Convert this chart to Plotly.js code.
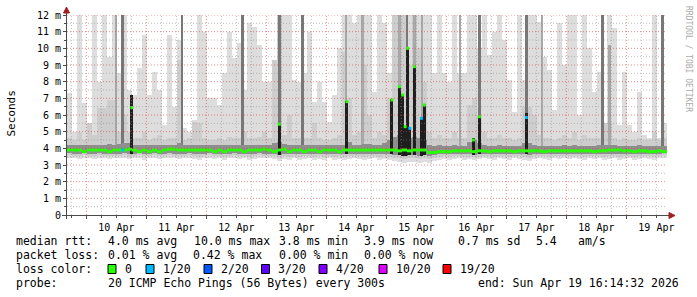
<!DOCTYPE html>
<html><head><meta charset="utf-8">
<script src="https://cdn.plot.ly/plotly-3.0.1.min.js"></script>
<style>html,body{margin:0;padding:0;background:#fff}#chart{width:697px;height:297px}</style>
</head><body><div id="chart"></div>
<script>
// ---------- data (ms) ----------
const startTime = '2026-04-09 16:14:32';
const endTime = '2026-04-19 16:14:32';
const binHours = 2;

const rttMax = [
 7.3,5.0,12.2,6.7,4.5,12.2,8.0,12.2,9.5,12.2,
 8.5,12.2,7.5,7.2,8.8,10.8,7.2,8.6,7.5,5.4,
 10.8,6.5,10.5,5.2,5.0,5.7,12.2,11.0,7.0,7.0,
 6.6,8.5,11.0,9.4,10.3,7.5,11.5,11.3,10.2,8.0,
 8.0,7.8,9.3,12.2,12.2,8.1,8.0,8.5,11.0,6.8,
 8.0,6.8,5.6,7.2,10.0,12.2,12.2,11.5,12.2,12.2,
 12.0,7.4,12.2,11.5,8.5,10.9,12.2,12.2,12.2,12.2,
 12.2,12.2,12.2,8.5,12.2,8.5,8.0,12.2,8.5,8.5,
 12.2,12.2,10.0,12.2,9.6,11.0,12.2,10.5,8.1,6.2,
 12.2,8.1,12.2,12.2,11.6,9.5,8.7,6.3,11.5,9.0,
 12.2,12.2,6.0,12.2,10.0,7.4,8.6,5.5,12.0,11.2,
 5.4,8.6,5.4,5.0,7.4,4.8,4.6,12.2,4.6,5.5
];
const rttP90 = [
 4.6,4.5,5.0,4.5,5.5,4.8,6.4,6.4,6.9,6.9,
 5.0,6.0,5.0,4.6,4.6,5.0,4.5,4.6,4.8,4.5,
 4.6,4.6,9.3,4.5,4.6,5.6,5.5,4.6,4.5,4.5,
 4.6,4.5,4.7,4.6,4.6,5.0,4.6,4.6,4.7,5.0,
 4.6,9.3,12.0,4.8,6.0,4.6,4.6,4.6,4.6,5.5,
 4.6,4.5,4.5,4.6,4.8,9.8,7.0,4.8,5.0,9.0,
 6.0,4.6,5.0,4.8,7.0,12.0,12.0,12.0,9.0,12.0,
 10.0,8.0,5.0,4.6,4.8,4.6,4.6,5.0,4.6,4.6,
 6.6,7.0,6.0,5.0,4.6,4.6,4.8,4.6,4.6,4.5,
 4.6,6.5,6.5,6.0,4.8,4.6,4.6,4.5,4.6,4.8,
 4.6,5.0,4.5,4.8,4.6,4.6,4.6,5.5,5.5,4.6,
 4.5,4.6,4.5,4.5,4.6,4.5,4.5,5.0,4.5,4.6
];
const rttP75 = [
 4.2,4.18,4.2,4.22,4.18,4.2,4.22,4.2,4.25,4.22,
 4.25,4.3,4.35,4.2,4.18,4.2,4.2,4.18,4.2,4.18,
 4.22,4.2,4.3,4.18,4.2,4.22,4.2,4.18,4.2,4.18,
 4.2,4.18,4.2,4.2,4.18,4.2,4.2,4.18,4.2,4.22,
 4.2,4.3,4.4,4.25,4.22,4.2,4.22,4.2,4.2,4.18,
 4.2,4.18,4.2,4.2,4.18,4.22,4.4,4.2,4.22,4.25,
 4.25,4.2,4.22,4.3,4.5,4.7,4.8,4.8,4.6,4.7,
 4.6,4.5,4.2,4.15,4.18,4.15,4.15,4.18,4.15,4.15,
 4.4,4.5,4.3,4.2,4.15,4.15,4.18,4.15,4.15,4.15,
 4.15,4.3,4.3,4.2,4.15,4.15,4.15,4.15,4.15,4.18,
 4.15,4.18,4.15,4.15,4.15,4.15,4.2,4.18,4.2,4.2,
 4.15,4.15,4.15,4.15,4.18,4.15,4.15,4.15,4.15,4.15
];
const rttMedian = [
 3.9,3.9,3.9,3.8,3.9,3.9,3.9,3.9,3.8,3.9,
 3.9,3.9,3.95,3.9,3.8,3.9,3.8,3.9,3.8,3.9,
 3.95,3.95,3.9,3.9,3.9,3.9,3.9,3.9,3.9,3.8,
 3.9,3.8,3.9,3.9,3.9,3.8,3.9,3.9,3.9,3.95,
 3.9,3.8,3.9,3.95,3.8,3.9,3.9,3.8,3.9,3.9,
 3.8,3.9,3.9,3.9,3.8,3.9,3.9,3.9,3.9,3.9,
 3.9,3.9,3.9,3.9,3.9,3.9,3.85,3.9,3.85,3.9,
 3.9,3.9,3.75,3.75,3.8,3.8,3.8,3.85,3.85,3.85,
 3.85,3.8,3.85,3.85,3.8,3.85,3.85,3.85,3.85,3.8,
 3.85,3.85,3.85,3.85,3.85,3.8,3.85,3.85,3.85,3.85,
 3.85,3.85,3.85,3.85,3.85,3.8,3.85,3.85,3.9,3.9,
 3.9,3.85,3.85,3.8,3.85,3.85,3.8,3.8,3.85,3.8
];
const rttP25 = [
 3.7,3.68,3.68,3.7,3.68,3.66,3.7,3.68,3.66,3.68,
 3.68,3.7,3.66,3.68,3.7,3.66,3.68,3.7,3.66,3.68,
 3.7,3.68,3.66,3.68,3.7,3.66,3.65,3.68,3.7,3.66,
 3.68,3.65,3.68,3.7,3.66,3.68,3.65,3.66,3.7,3.68,
 3.68,3.66,3.62,3.66,3.65,3.68,3.65,3.66,3.68,3.65,
 3.66,3.65,3.68,3.65,3.66,3.65,3.66,3.68,3.66,3.65,
 3.66,3.68,3.65,3.66,3.64,3.6,3.58,3.56,3.58,3.58,
 3.56,3.58,3.55,3.6,3.64,3.65,3.64,3.66,3.68,3.65,
 3.65,3.63,3.65,3.68,3.66,3.65,3.68,3.66,3.65,3.68,
 3.66,3.65,3.62,3.66,3.68,3.66,3.65,3.68,3.66,3.68,
 3.66,3.68,3.66,3.65,3.68,3.66,3.68,3.65,3.66,3.68,
 3.65,3.66,3.68,3.65,3.66,3.68,3.66,3.65,3.68,3.7
];
const rttP10 = [
 3.58,3.55,3.55,3.58,3.55,3.52,3.58,3.55,3.52,3.55,
 3.55,3.58,3.5,3.55,3.58,3.52,3.55,3.58,3.52,3.55,
 3.58,3.55,3.52,3.55,3.58,3.52,3.5,3.55,3.58,3.52,
 3.55,3.5,3.55,3.58,3.52,3.55,3.5,3.52,3.58,3.55,
 3.55,3.52,3.45,3.52,3.5,3.55,3.5,3.52,3.55,3.5,
 3.52,3.5,3.55,3.5,3.52,3.5,3.52,3.55,3.52,3.5,
 3.52,3.55,3.5,3.52,3.5,3.45,3.4,3.35,3.4,3.4,
 3.35,3.4,3.35,3.45,3.5,3.52,3.5,3.52,3.55,3.5,
 3.5,3.48,3.5,3.55,3.52,3.5,3.55,3.52,3.5,3.55,
 3.52,3.5,3.45,3.52,3.55,3.52,3.5,3.55,3.52,3.55,
 3.52,3.55,3.52,3.5,3.55,3.52,3.55,3.5,3.52,3.55,
 3.5,3.52,3.55,3.5,3.52,3.55,3.52,3.5,3.55,3.58
];
const rttMin = [
 3.45,3.4,3.35,3.45,3.4,3.35,3.45,3.4,3.35,3.45,
 3.4,3.45,3.35,3.4,3.45,3.3,3.4,3.45,3.35,3.4,
 3.45,3.4,3.35,3.4,3.45,3.35,3.3,3.4,3.45,3.35,
 3.4,3.3,3.4,3.45,3.35,3.4,3.3,3.35,3.45,3.4,
 3.4,3.35,3.25,3.35,3.3,3.4,3.3,3.35,3.4,3.3,
 3.35,3.3,3.4,3.3,3.35,3.3,3.35,3.4,3.35,3.3,
 3.35,3.4,3.3,3.35,3.3,3.25,3.2,3.15,3.2,3.2,
 3.15,3.2,3.1,3.25,3.3,3.35,3.3,3.35,3.4,3.3,
 3.35,3.3,3.35,3.4,3.35,3.3,3.4,3.35,3.3,3.4,
 3.35,3.3,3.25,3.35,3.4,3.35,3.3,3.4,3.35,3.4,
 3.35,3.4,3.35,3.3,3.4,3.35,3.4,3.3,3.35,3.4,
 3.3,3.35,3.4,3.3,3.35,3.4,3.35,3.3,3.4,3.45
];

// short bursts (median jumps) and their loss
const spikeTimes  = ['2026-04-10 14:30','2026-04-10 18:12','2026-04-13 05:12','2026-04-14 08:12','2026-04-15 02:12','2026-04-15 05:12','2026-04-15 06:30','2026-04-15 07:30','2026-04-15 08:24','2026-04-15 09:24','2026-04-15 11:12','2026-04-15 14:00','2026-04-15 15:12','2026-04-16 10:48','2026-04-16 13:12','2026-04-17 08:00'];
const spikeMedian = [3.9, 6.45, 5.45, 6.8, 6.9, 7.7, 7.2, 5.3, 10.0, 5.2, 8.9, 5.8, 6.6, 4.5, 5.9, 5.85];
const spikeTop    = [3.9, 7.2, 5.5, 6.85, 6.95, 7.7, 7.2, 5.3, 10.05, 5.3, 8.95, 5.9, 6.65, 4.6, 5.95, 6.1];
const spikeLoss   = [1, 0, 0, 0, 0, 0, 0, 0, 0, 1, 0, 1, 0, 0, 0, 1];

// full-height smoke streaks
const darkLineTimes = ['2026-04-10 14:30','2026-04-11 14:12','2026-04-12 14:24','2026-04-13 05:12','2026-04-13 14:24','2026-04-15 08:12','2026-04-16 13:12','2026-04-17 08:00','2026-04-18 14:24','2026-04-19 14:24'];
const darkLineTop   = [12.2,12.2,12.2,12.2,12.2,12.2,12.2,12.2,12.2,12.2];
const midLineTimes  = ['2026-04-10 11:48','2026-04-14 07:48','2026-04-14 14:24','2026-04-15 05:12','2026-04-15 11:12','2026-04-15 14:12','2026-04-16 05:24','2026-04-17 14:18','2026-04-18 17:12'];
const midLineTop    = [12.2,12.2,12.2,12.2,12.2,12.2,12.2,12.2,10.2];

const yTickVals  = [0,1,2,3,4,5,6,7,8,9,10,11,12];
const yTickText  = ['0','1 m','2 m','3 m','4 m','5 m','6 m','7 m','8 m','9 m','10 m','11 m','12 m'];
const lossLabels = ['0','1/20','2/20','3/20','4/20','10/20','19/20'];
const lossSteps  = [0,1,2,3,4,10,19];
const lossColors = ['#26ff00','#00b8ff','#0059ff','#5e00ff','#7e00ff','#dd00ff','#ff0000'];

// ---------- build ----------
const toMs = s => new Date(s.replace(' ', 'T') + (s.length === 16 ? ':00Z' : 'Z')).getTime();
const H = 3600000;
const t0 = toMs(startTime), t1 = toMs(endTime);
const binMs = binHours * H;
const N = rttMax.length;
const centers = rttMax.map((_, i) => t0 + (i + 0.5) * binMs);
const binOf = t => Math.min(N - 1, Math.max(0, Math.floor((t - t0) / binMs)));
const diff = (a, b) => a.map((v, i) => v - b[i]);
const lossColor = l => lossColors[lossSteps.indexOf(l)];

const traces = [];
function band(base, top, color) {
  traces.push({type:'bar', x:centers, base:base, y:diff(top, base), width:binMs,
    marker:{color:color, line:{width:0}}, hoverinfo:'skip'});
}
function streaks(times, tops, color, wh) {
  const xs = times.map(toMs);
  const base = xs.map(t => rttP25[binOf(t)]);
  traces.push({type:'bar', x:xs, base:base, y:tops.map((v, i) => v - base[i]), width:wh * H,
    marker:{color:color, line:{width:0}}, hoverinfo:'skip'});
}
band(rttMin, rttMax, '#dddddd');
band(rttP10, rttP90, '#cdcdcd');
streaks(midLineTimes, midLineTop, '#a8a8a8', 1);
streaks(darkLineTimes, darkLineTop, '#777777', 1);
band(rttP25, rttP75, '#8e8e8e');

// median (bins, all 0 loss)
{
  const xs = [], ys = [];
  rttMedian.forEach((m, i) => { xs.push(t0 + i * binMs, t0 + (i + 1) * binMs, null); ys.push(m, m, null); });
  traces.push({type:'scatter', mode:'lines', x:xs, y:ys, line:{color:lossColor(0), width:3}, hoverinfo:'skip', connectgaps:false});
}
// spike cores
{
  const sw = 1.2 * H;
  const xs = [], base = [], h = [];
  spikeTimes.forEach((s, i) => {
    if (spikeTop[i] > spikeMedian[i] + 0.001 || spikeMedian[i] > 4.2) {
      const t = toMs(s); const b = rttP25[binOf(t)];
      xs.push(t); base.push(b); h.push(spikeTop[i] - b);
    }
  });
  traces.push({type:'bar', x:xs, base:base, y:h, width:sw, marker:{color:'#1e1e1e', line:{width:0}}, hoverinfo:'skip'});
  // spike medians by loss
  lossSteps.forEach(l => {
    const mx = [], my = [];
    spikeTimes.forEach((s, i) => {
      if (spikeLoss[i] !== l) return;
      const t = toMs(s);
      mx.push(t - sw / 2, t + sw / 2, null); my.push(spikeMedian[i], spikeMedian[i], null);
    });
    if (mx.length) traces.push({type:'scatter', mode:'lines', x:mx, y:my, line:{color:lossColor(l), width:3}, hoverinfo:'skip'});
  });
}

// ---------- layout helpers ----------
const L = 67, T = 15, PW = 600, PH = 200;
const px = x => (x - L) / PW;
const py = y => (T + PH - y) / PH;

const shapes = [];
const dot = '1px,2px';
const majC = 'rgba(222,60,60,0.6)', minC = 'rgba(140,140,140,0.55)';
for (let t = toMs('2026-04-09 18:00'); t < t1; t += 6 * H) {
  const isDay = ((t - toMs('2026-04-10 00:00')) % (24 * H)) === 0;
  shapes.push({type:'line', xref:'x', yref:'paper', x0:t, x1:t, y0:0, y1:1,
    line:{color:isDay ? majC : minC, width:1, dash:dot}});
}
for (let v = 0.5; v <= 12; v += 0.5) {
  const maj = Number.isInteger(v);
  shapes.push({type:'line', xref:'paper', yref:'y', x0:0, x1:1, y0:v, y1:v,
    line:{color:maj ? majC : minC, width:1, dash:dot}});
}
// axes + arrows
const axC = '#4a4a4a', arC = '#a02020';
shapes.push({type:'line', xref:'paper', yref:'paper', x0:px(66.5), x1:px(66.5), y0:py(219), y1:py(11), line:{color:axC, width:1}});
shapes.push({type:'line', xref:'paper', yref:'paper', x0:px(62), x1:px(670), y0:py(215.5), y1:py(215.5), line:{color:axC, width:1}});
shapes.push({type:'path', xref:'paper', yref:'paper', path:`M${px(63.5)},${py(13)} L${px(66.5)},${py(7)} L${px(69.5)},${py(13)} Z`, fillcolor:arC, line:{color:arC, width:1}});
shapes.push({type:'path', xref:'paper', yref:'paper', path:`M${px(669)},${py(212.5)} L${px(675)},${py(215.5)} L${px(669)},${py(218.5)} Z`, fillcolor:arC, line:{color:arC, width:1}});

// legend boxes
const sqX = [108, 146, 204, 261.5, 319, 379, 443];
lossColors.forEach((c, i) => {
  shapes.push({type:'rect', xref:'paper', yref:'paper', x0:px(sqX[i]), x1:px(sqX[i] + 8), y0:py(273.5), y1:py(264.5),
    fillcolor:c, line:{color:'#000', width:1}});
});

const lf = {family:'DejaVu Sans Mono', size:11.5, color:'#000'};
const ann = (x, y, text, font, extra) => Object.assign({xref:'paper', yref:'paper', x:px(x), y:py(y), text:text,
  xanchor:'left', yanchor:'middle', showarrow:false, borderpad:0, borderwidth:0, font:font || lf}, extra || {});
const annotations = [
  ann(16, 241, 'median rtt:'), ann(107.6, 241, '4.0 ms avg'), ann(194, 241, '10.0 ms max'), ann(279, 241, '3.8 ms min'),
  ann(364, 241, '3.9 ms now'), ann(458, 241, '0.7 ms sd'), ann(535.6, 241, '5.4'), ann(577.6, 241, 'am/s'),
  ann(16, 255, 'packet loss:'), ann(107.6, 255, '0.01 % avg'), ann(193, 255, '0.42 % max'), ann(279, 255, '0.00 % min'), ann(364, 255, '0.00 % now'),
  ann(16, 269, 'loss color:'),
  ann(16, 283, 'probe:'), ann(107.6, 283, '20 ICMP Echo Pings (56 Bytes) every 300s'), ann(478, 283, 'end: Sun Apr 19 16:14:32 2026'),
  ann(11, 113.5, 'Seconds', {family:'DejaVu Sans Mono', size:11, color:'#000'}, {xanchor:'center', textangle:-90}),
  ann(688, 59, 'RRDTOOL / TOBI OETIKER', {family:'DejaVu Sans Mono', size:8, color:'#aaaaaa'}, {xanchor:'center', textangle:90})
];
lossLabels.forEach((s, i) => annotations.push(ann(sqX[i] + 16.5, 269, s)));

const tickFont = {family:'DejaVu Sans Mono', size:10, color:'#000'};
const layout = {
  width:697, height:297, autosize:false,
  margin:{l:L, r:697 - L - PW, t:T, b:297 - T - PH, pad:0},
  paper_bgcolor:'#ffffff', plot_bgcolor:'#ffffff',
  showlegend:false, barmode:'overlay', bargap:0,
  xaxis:{type:'date', range:[t0, t1], showgrid:false, zeroline:false, showline:false,
    tickmode:'linear', tick0:'2026-04-10', dtick:24 * H, ticklabelmode:'period', tickformat:'%d %b',
    ticks:'outside', ticklen:3, tickcolor:axC, tickfont:tickFont,
    minor:{tickmode:'linear', tick0:'2026-04-10', dtick:6 * H, ticks:'outside', ticklen:2, tickcolor:axC, showgrid:false}},
  yaxis:{range:[0, 12], showgrid:false, zeroline:false, showline:false,
    tickmode:'array', tickvals:yTickVals, ticktext:yTickText,
    ticks:'outside', ticklen:3, tickcolor:axC, tickfont:tickFont,
    minor:{tickmode:'linear', tick0:0, dtick:0.5, ticks:'outside', ticklen:2, tickcolor:axC, showgrid:false}},
  shapes:shapes, annotations:annotations
};
Plotly.newPlot('chart', traces, layout, {staticPlot:true, displayModeBar:false});
</script>
</body></html>
